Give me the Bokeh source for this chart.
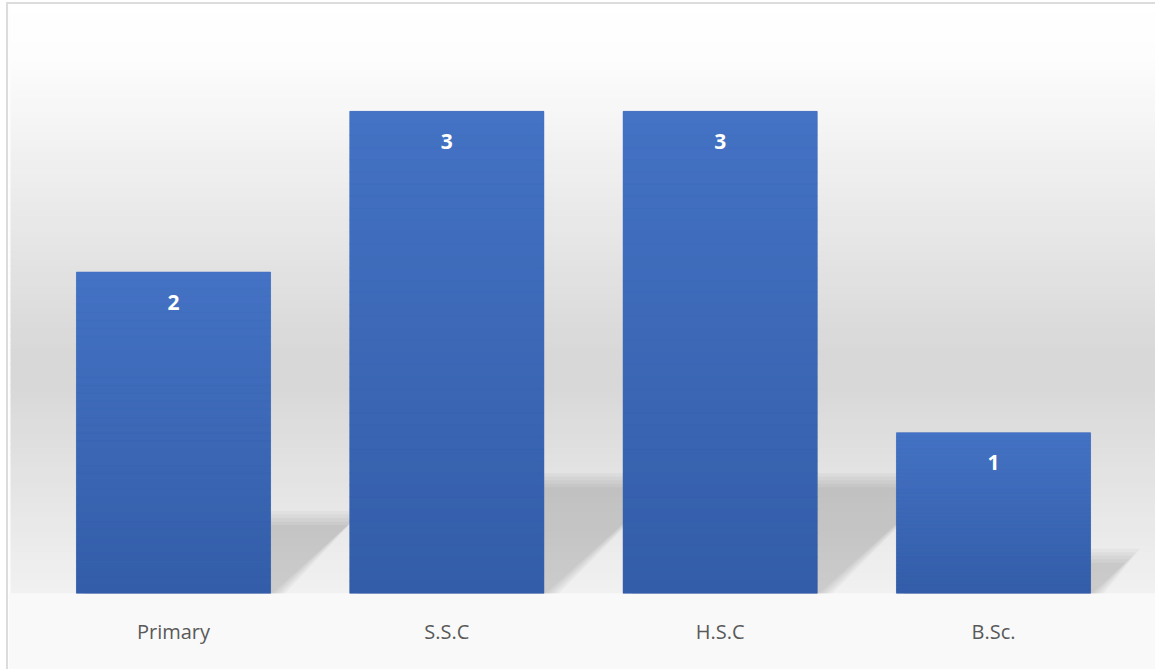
from bokeh.plotting import figure
from bokeh.models import FactorRange, Range1d, ColumnDataSource, BoxAnnotation
from bokeh.core.properties import value
from bokeh.embed import file_html
from bokeh.resources import INLINE

# ---- data ----
categories = ["Primary", "S.S.C", "H.S.C", "B.Sc."]
counts = [2, 3, 3, 1]
count_labels = ["2", "3", "3", "1"]

W, H = 1149, 667
BAR_W = 0.71

p = figure(width=W, height=H,
           x_range=FactorRange(*categories, range_padding=0.05),
           y_range=Range1d(0, 3.665),
           output_backend="svg", toolbar_location=None,
           x_axis_location="below", y_axis_location=None,
           min_border_left=1, min_border_right=0, min_border_top=0,
           min_border_bottom=78,
           background_fill_color=None, border_fill_color="#f9f9f9",
           outline_line_color=None)
p.grid.visible = False
p.styles = {"margin-left": "6px", "margin-top": "2px",
            "border-left": "2px solid #dcdcdc", "border-top": "2px solid #dcdcdc"}


def lerp(a, b, t):
    return a + (b - a) * t


def hexc(r, g, b):
    return "#%02x%02x%02x" % (int(round(r)), int(round(g)), int(round(b)))


# ---- background gradient ----
stops = [(0.0, 255), (0.08, 253), (0.52, 216), (0.57, 216), (1.0, 251)]


def bg_level(f):
    for (f0, c0), (f1, c1) in zip(stops[:-1], stops[1:]):
        if f0 <= f <= f1:
            return lerp(c0, c1, (f - f0) / (f1 - f0))
    return stops[-1][1]


step = 7
y = 0
while y < H:
    g = bg_level((y + 4 + step / 2) / 671)
    p.add_layout(BoxAnnotation(left=0, right=W, top=y, bottom=min(H, y + step + 1),
                               left_units="canvas", right_units="canvas",
                               top_units="canvas", bottom_units="canvas",
                               fill_color=hexc(g, g, g), fill_alpha=1.0,
                               line_color=None, level="underlay"))
    y += step

# ---- perspective shadows (derived from bar values) ----
KX = 0.155   # category units of skew per unit of value
MY = 0.235   # value units of shadow height per unit of value
sx, sy = [], []
for i, v in enumerate(counts):
    c = i + 0.5
    L, R = c - BAR_W / 2, c + BAR_W / 2
    for e in (-7, -3.5, 0, 3.5, 7):
        ex = e / 273.3
        ey = e / 160.7
        top = max(MY * v + ey, 0.01)
        sh = KX * v
        sx.append([L, R + ex, R + ex + sh, L + sh])
        sy.append([-0.05, -0.05, top, top])
p.patches(xs="xs", ys="ys", source=ColumnDataSource(dict(xs=sx, ys=sy)),
          fill_color="black", fill_alpha=0.032, line_color=None)

# ---- bars with vertical gradient ----
TOP_C = (68, 114, 196)
BOT_C = (51, 93, 168)
p.vbar(x=categories, top=counts, width=BAR_W, fill_color="#3c67b6", line_color=None)

N = 40
bx, bb, bt, bc = [], [], [], []
for cat, v in zip(categories, counts):
    for k in range(N):
        t = (k + 0.5) / N
        bx.append(cat)
        bb.append(v * k / N)
        bt.append(v * (k + 1) / N)
        bc.append(hexc(*(lerp(BOT_C[j], TOP_C[j], t) for j in range(3))))
p.vbar(x="x", bottom="b", top="t", width=BAR_W, fill_color="c", line_color="c",
       line_width=0.6, source=ColumnDataSource(dict(x=bx, b=bb, t=bt, c=bc)))

# ---- value labels ----
p.text(x=categories, y=counts, text=count_labels, y_offset=30,
       text_align="center", text_baseline="middle", text_color="white",
       text_font=value("Open Sans"), text_font_style="bold", text_font_size="21px")

# ---- axis ----
ax = p.xaxis[0]
ax.axis_line_color = None
ax.major_tick_line_color = None
ax.minor_tick_line_color = None
ax.major_label_text_font = "Open Sans"
ax.major_label_text_font_size = "20px"
ax.major_label_text_color = "#595959"
ax.major_label_standoff = 18

open("out.html", "w").write(file_html(p, INLINE))
